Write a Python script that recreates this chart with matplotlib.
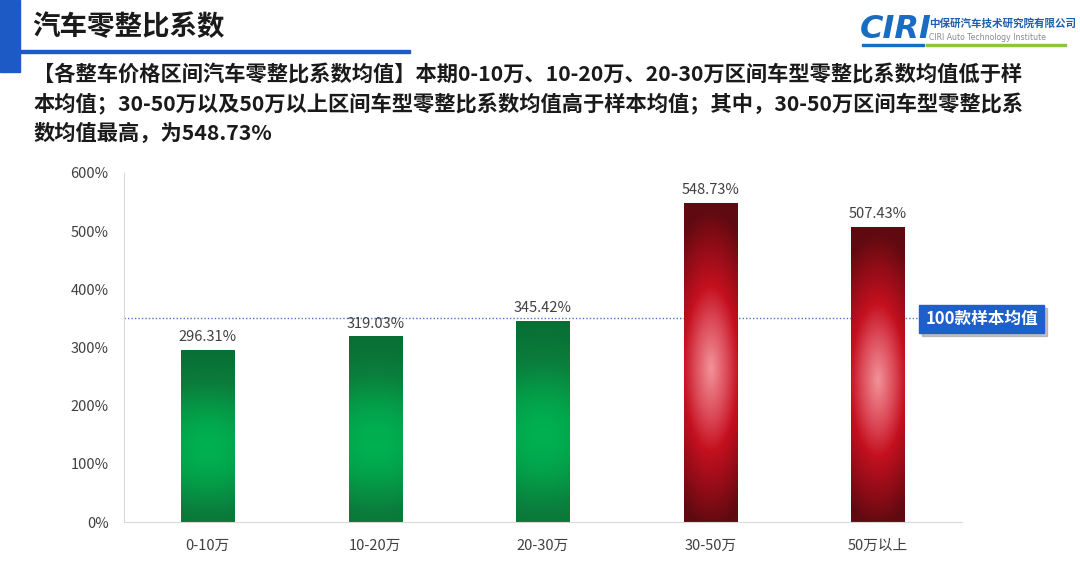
import numpy as np
import matplotlib.pyplot as plt
from matplotlib.colors import LinearSegmentedColormap
from matplotlib.patches import Rectangle

plt.rcParams['font.family'] = ['Noto Sans CJK SC', 'DejaVu Sans']

# data
categories = ["0-10万", "10-20万", "20-30万", "30-50万", "50万以上"]
values = [296.31, 319.03, 345.42, 548.73, 507.43]
sample_mean = 351.0
mean_label = "100款样本均值"
above_mean = [False, False, False, True, True]

title = "汽车零整比系数"
subtitle = ["【各整车价格区间汽车零整比系数均值】本期0-10万、10-20万、20-30万区间车型零整比系数均值低于样",
            "本均值；30-50万以及50万以上区间车型零整比系数均值高于样本均值；其中，30-50万区间车型零整比系",
            "数均值最高，为548.73%"]

W, H = 1080, 569
fig = plt.figure(figsize=(W / 100, H / 100), dpi=100)


def fx(x):
    return x / W


def fy(y):
    return 1 - y / H


# header decorations
fig.patches.append(Rectangle((0, fy(72)), fx(20), 72 / H, transform=fig.transFigure,
                             color="#1d5ac6", zorder=0))
fig.patches.append(Rectangle((fx(20), fy(52.5)), fx(390), 3 / H, transform=fig.transFigure,
                             color="#1d5ac6", zorder=0))
fig.text(fx(32), fy(27), title, fontsize=19.8, fontweight="bold", color="#1a1a1a", va="center")
for i, line in enumerate(subtitle):
    fig.text(fx(33), fy(75 + i * 29), line, fontsize=15.3, fontweight="bold", color="#1a1a1a",
             va="center")

# logo
fig.text(fx(860), fy(30), "CIRI", fontsize=23, fontweight="bold", fontstyle="italic",
         color="#1a6cc0", va="center", family="DejaVu Sans")
fig.text(fx(929), fy(23), "中保研汽车技术研究院有限公司", fontsize=7.6, fontweight="bold",
         color="#1d5fae", va="center")
fig.text(fx(929), fy(38), "CIRI Auto Technology Institute", fontsize=5.6, color="#8a8a8a",
         va="center", family="DejaVu Sans")
fig.patches.append(Rectangle((fx(926), fy(46)), fx(140), 2 / H, transform=fig.transFigure,
                             color="#8cc63f", zorder=0))
fig.patches.append(Rectangle((fx(862), fy(46)), fx(62), 2 / H, transform=fig.transFigure,
                             color="#1a6cc0", zorder=0))

# chart
ax = fig.add_axes([fx(124), fy(522), fx(962 - 124), (522 - 173) / H])
x = np.arange(len(categories))
bars = ax.bar(x, values, width=0.32, color="none", zorder=2)

green_cmap = LinearSegmentedColormap.from_list("g", ["#06662f", "#0b7d3c", "#00b050"])
red_cmap = LinearSegmentedColormap.from_list(
    "r", [(0, "#5e0a10"), (0.2, "#8a0c16"), (0.48, "#c4101f"), (0.7, "#dc4a58"), (1, "#f2939a")])

gh, gw = 300, 60
gy = np.linspace(0, 1, gh)[:, None]
gx = np.linspace(-1, 1, gw)[None, :]
green_img = np.exp(-((gy - 0.57) / 0.45) ** 2) * (1 - 0.08 * gx ** 2)
red_img = np.clip(1 - np.sqrt((gx / 2.0) ** 2 + ((gy - 0.52) / 0.5) ** 2), 0, 1)

for b, hi in zip(bars, above_mean):
    x0, w, h = b.get_x(), b.get_width(), b.get_height()
    img = ax.imshow(red_img if hi else green_img, cmap=red_cmap if hi else green_cmap,
                    extent=[x0, x0 + w, 0, h], aspect="auto", origin="upper",
                    vmin=0, vmax=1, zorder=2, interpolation="bilinear")
    img.set_clip_path(b)
    ax.text(x0 + w / 2, h + 10, f"{h:.2f}%", ha="center", va="bottom", fontsize=10.5,
            color="#404040")

ax.axhline(sample_mean, xmin=0, xmax=0.95, color="#4a78c8", linestyle=(0, (1, 1.5)),
           linewidth=1, zorder=1)

ax.set_xlim(-0.5, len(categories) - 0.5)
ax.set_ylim(0, 600)
ax.set_yticks(np.arange(0, 601, 100))
ax.set_yticklabels([f"{v}%" for v in range(0, 601, 100)])
ax.set_xticks(x)
ax.set_xticklabels(categories)
ax.tick_params(length=0, labelsize=10.5, colors="#404040")
ax.tick_params(axis="y", pad=11)
ax.tick_params(axis="x", pad=12)
for s in ["top", "right"]:
    ax.spines[s].set_visible(False)
for s in ["left", "bottom"]:
    ax.spines[s].set_color("#d9d9d9")

# mean label box
fig.patches.append(Rectangle((fx(922), fy(336)), fx(125), 28 / H, transform=fig.transFigure,
                             color="#9a9a9a", alpha=0.6, zorder=3))
fig.patches.append(Rectangle((fx(919), fy(333)), fx(125), 28 / H, transform=fig.transFigure,
                             color="#1e5fc9", zorder=4))
fig.text(fx(981.5), fy(319), mean_label, fontsize=12, fontweight="bold", color="white",
         ha="center", va="center", zorder=5)

fig.savefig("out.png", dpi=100)
